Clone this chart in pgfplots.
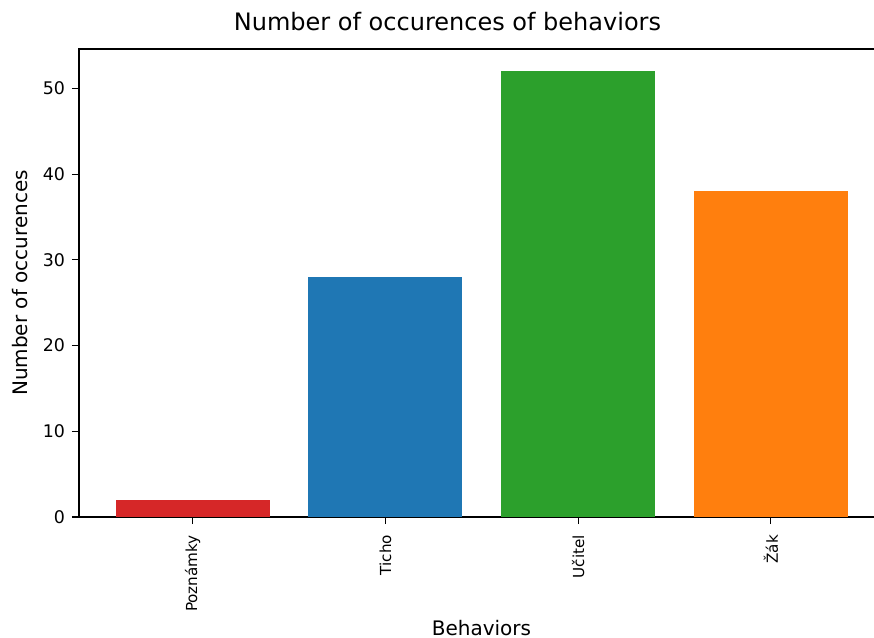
\documentclass[border=0pt]{standalone}
\usepackage{pgfplots}
\pgfplotsset{compat=1.18}
\usepackage{fontspec}
\setmainfont{DejaVu Sans}
\definecolor{mplred}{HTML}{D62728}
\definecolor{mplblue}{HTML}{1F77B4}
\definecolor{mplgreen}{HTML}{2CA02C}
\definecolor{mplorange}{HTML}{FF7F0E}
\begin{document}
\begin{tikzpicture}
\begin{axis}[
  at={(0,0)}, anchor=south west,
  scale only axis, width=402.75pt, height=234pt,
  xmin=-0.59, xmax=3.59, ymin=0, ymax=54.6,
  xtick={0,1,2,3}, xticklabels={Poznámky,Ticho,Učitel,Žák},
  ytick={0,10,20,30,40,50},
  tick align=outside, tick pos=left, major tick length=3.5pt,
  tick style={line width=0.6pt, black},
  axis line style={line width=0.6pt},
  xticklabel style={rotate=90, anchor=east, font=\fontsize{7.6}{8}\selectfont},
  xticklabel shift=2pt,
  yticklabel style={font=\fontsize{8.7}{10}\selectfont},
  /pgf/number format/assume math mode=true,
]
\addplot[ybar, bar width=0.8, bar shift=0pt, fill=mplred, draw=none] coordinates {(0,2)};
\addplot[ybar, bar width=0.8, bar shift=0pt, fill=mplblue, draw=none] coordinates {(1,28)};
\addplot[ybar, bar width=0.8, bar shift=0pt, fill=mplgreen, draw=none] coordinates {(2,52)};
\addplot[ybar, bar width=0.8, bar shift=0pt, fill=mplorange, draw=none] coordinates {(3,38)};
\end{axis}
\node[font=\fontsize{12}{14}\selectfont] at (184.25pt,247.5pt) {Number of occurences of behaviors};
\node[font=\fontsize{10}{12}\selectfont, rotate=90] at (-29.5pt,117pt) {Number of occurences};
\node[font=\fontsize{10}{12}\selectfont] at (201.25pt,-55.5pt) {Behaviors};
\pgfresetboundingbox
\useasboundingbox (-39.5pt,-60.5pt) rectangle (397.5pt,258.5pt);
\end{tikzpicture}
\end{document}
